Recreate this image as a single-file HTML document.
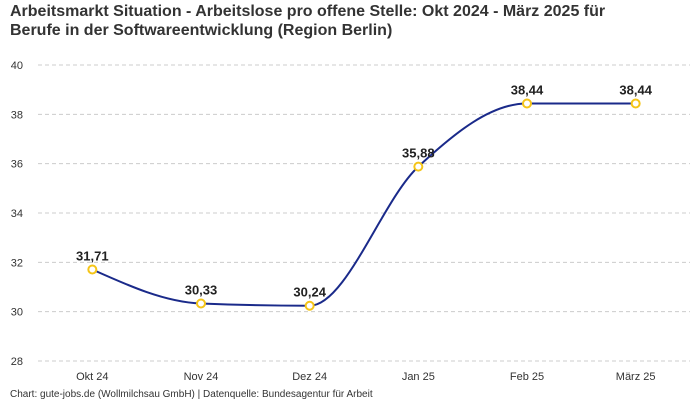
<!DOCTYPE html>
<html><head><meta charset="utf-8"><style>
body{margin:0;background:#fff;font-family:"Liberation Sans",sans-serif}
svg{display:block}
</style></head><body>
<svg width="700" height="400">
<text x="10" y="16" font-size="16" font-weight="bold" fill="#333">Arbeitsmarkt Situation - Arbeitslose pro offene Stelle: Okt 2024 - März 2025 für</text>
<text x="10" y="35" font-size="16" font-weight="bold" fill="#333">Berufe in der Softwareentwicklung (Region Berlin)</text>
<g id="grid"></g>
<g id="marks"></g>
<text x="10" y="397" font-size="10" fill="#333">Chart: gute-jobs.de (Wollmilchsau GmbH) | Datenquelle: Bundesagentur für Arbeit</text>
</svg>
<script>
const categories=["Okt 24","Nov 24","Dez 24","Jan 25","Feb 25","März 25"];
const values=[31.71,30.33,30.24,35.88,38.44,38.44];
const valueLabels=["31,71","30,33","30,24","35,88","38,44","38,44"];
const yTicks=[28,30,32,34,36,38,40];
const NS="http://www.w3.org/2000/svg";
const x0=38,x1=690,yTop=65,yBot=361,yMin=28,yMax=40;
const bw=(x1-x0)/categories.length;
const X=i=>x0+bw*(i+0.5);
const Y=v=>yBot-(v-yMin)/(yMax-yMin)*(yBot-yTop);
function mk(t,a,p){const e=document.createElementNS(NS,t);for(const k in a)e.setAttribute(k,a[k]);p.appendChild(e);return e;}
const g=document.getElementById('grid'),m=document.getElementById('marks');
yTicks.forEach(t=>{
 const l=mk('line',{x1:x0,x2:x1,y1:Y(t),y2:Y(t),stroke:'#ccc','stroke-dasharray':'4,3'},g);
 
 
 const tx=mk('text',{x:x0-15,y:Y(t)+4,'font-size':11,'text-anchor':'end',fill:'#333'},g);
 tx.textContent=t;
 
 
});
categories.forEach((c,i)=>{
 const tx=mk('text',{x:X(i),y:380,'font-size':11,'text-anchor':'middle',fill:'#333'},g);
 tx.textContent=c;
 
 
});
// monotone X curve
const px=values.map((v,i)=>X(i)),py=values.map(Y),n=values.length;
const d=[],s=[];
for(let i=0;i<n-1;i++){d.push(px[i+1]-px[i]);s.push((py[i+1]-py[i])/d[i]);}
const t=new Array(n);
t[0]=s[0];t[n-1]=s[n-2];
for(let i=1;i<n-1;i++){
 if(s[i-1]*s[i]<=0)t[i]=0;
 else{const p=(s[i-1]*d[i]+s[i]*d[i-1])/(d[i-1]+d[i]);t[i]=(Math.sign(s[i-1])+Math.sign(s[i]))*Math.min(Math.abs(s[i-1]),Math.abs(s[i]),0.5*Math.abs(p));}
}
t[0]=(3*s[0]-t[1])/2; t[n-1]=(3*s[n-2]-t[n-2])/2;
let path=`M${px[0]},${py[0]}`;
for(let i=0;i<n-1;i++){const h=d[i]/3;path+=`C${px[i]+h},${py[i]+h*t[i]} ${px[i+1]-h},${py[i+1]-h*t[i+1]} ${px[i+1]},${py[i+1]}`;}
const ln=mk('path',{d:path,fill:'none',stroke:'#1a2a8a','stroke-width':2},m);


values.forEach((v,i)=>{
 const c=mk('circle',{cx:X(i),cy:Y(v),r:4,fill:'#fff',stroke:'#f5c518','stroke-width':2},m);
 
 
 const tx=mk('text',{x:X(i),y:Y(v)-9,'font-size':13,'font-weight':'bold','text-anchor':'middle',fill:'#222'},m);
 tx.textContent=valueLabels[i];
 
 
});
</script>
</body></html>
